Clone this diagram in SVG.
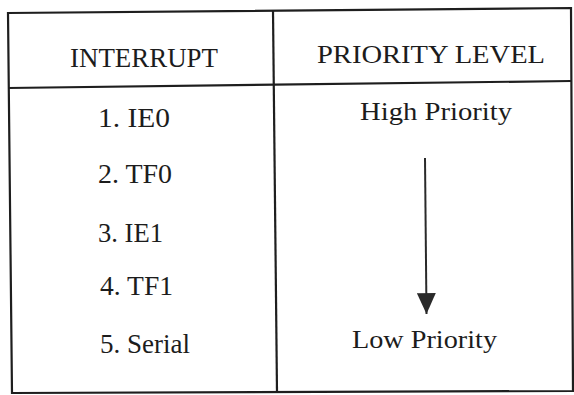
<svg xmlns="http://www.w3.org/2000/svg" width="574" height="395" viewBox="0 0 574 395">
  <style>
    .t { font-family: "Liberation Serif", "DejaVu Serif", "Times New Roman", serif; fill: #1c1c1c; }
    .l { font-size: 27px; }
    .r { font-size: 26px; }
    .b { stroke: #1e1e1e; stroke-width: 2.2; fill: none; }
  </style>
  <defs>
    <marker id="ah" viewBox="0 0 22 20" refX="22" refY="10" markerWidth="22" markerHeight="19" markerUnits="userSpaceOnUse" orient="auto">
      <path d="M0,0 L22,10 L0,20 Z" fill="#2a2a2a"/>
    </marker>
  </defs>
  <rect width="574" height="395" fill="#ffffff"/>
  <g id="table-frame">
    <polygon class="b" points="8,13 571,8 573,391 12,393"/>
    <line class="b" x1="8" y1="88" x2="571" y2="81"/>
    <line class="b" x1="273" y1="11" x2="277" y2="392"/>
  </g>
  <g id="header-interrupt">
    <text class="t l" x="70" y="67" textLength="148" lengthAdjust="spacingAndGlyphs">INTERRUPT</text>
  </g>
  <g id="header-priority">
    <text class="t r" x="317" y="63" textLength="228" lengthAdjust="spacingAndGlyphs">PRIORITY LEVEL</text>
  </g>
  <g id="row-1">
    <text class="t l" x="98" y="127" textLength="72" lengthAdjust="spacingAndGlyphs">1. IE0</text>
  </g>
  <g id="row-2">
    <text class="t l" x="98" y="183" textLength="74" lengthAdjust="spacingAndGlyphs">2. TF0</text>
  </g>
  <g id="row-3">
    <text class="t l" x="98" y="242" textLength="65" lengthAdjust="spacingAndGlyphs">3. IE1</text>
  </g>
  <g id="row-4">
    <text class="t l" x="100" y="295" textLength="73" lengthAdjust="spacingAndGlyphs">4. TF1</text>
  </g>
  <g id="row-5">
    <text class="t l" x="100" y="353" textLength="90" lengthAdjust="spacingAndGlyphs">5. Serial</text>
  </g>
  <g id="high-priority">
    <text class="t r" x="360" y="120" textLength="152" lengthAdjust="spacingAndGlyphs">High Priority</text>
  </g>
  <g id="low-priority">
    <text class="t r" x="352" y="348" textLength="145" lengthAdjust="spacingAndGlyphs">Low Priority</text>
  </g>
  <g id="connectors">
    <line x1="425" y1="158" x2="426.5" y2="314" stroke="#2a2a2a" stroke-width="2" marker-end="url(#ah)"/>
  </g>
</svg>
